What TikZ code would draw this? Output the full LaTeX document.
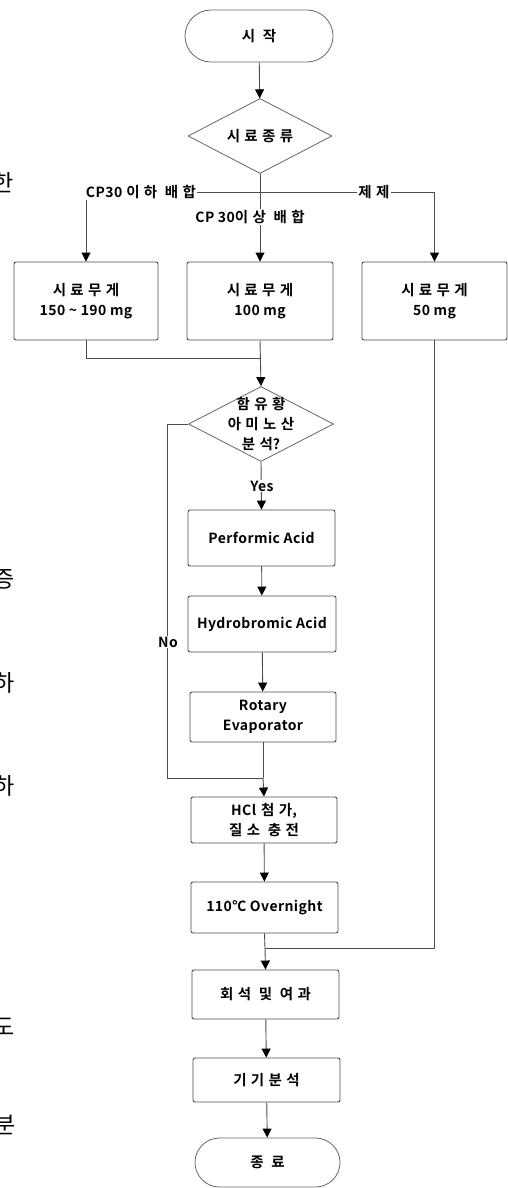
\documentclass[tikz,border=0pt]{standalone}
\usepackage{fontspec}
\setmainfont{Noto Sans CJK KR}[BoldFont={Noto Sans CJK KR Bold}]
\newfontfamily\krb{Noto Sans CJK KR Bold}[LetterSpace=3]
\newfontfamily\krr{Noto Sans CJK KR}
\newcommand{\ko}[1]{{\fontsize{14.5}{20}\selectfont\addfontfeature{LetterSpace=30}#1}}
\usetikzlibrary{shapes.geometric,shapes.misc,arrows.meta}
\tikzset{
  flow/.style={draw=black!70, line width=0.9pt},
  arr/.style={flow, -{Triangle[length=9pt,width=9pt,fill=black,color=black]}},
  txt/.style={font=\krb\fontsize{14}{20}\selectfont, align=center},
  box/.style={draw=black!70, line width=0.9pt, rounded corners=2pt, inner sep=0pt, txt},
  term/.style={draw=black!60, line width=0.8pt, rounded rectangle, inner sep=0pt, txt},
  dec/.style={draw=black!60, line width=0.8pt, diamond, inner sep=0pt},
  lbl/.style={fill=white, inner sep=1pt, txt},
  cutglyph/.style={font=\krr\fontsize{23}{23}\selectfont, anchor=east, inner sep=0pt}
}
\begin{document}
\begin{tikzpicture}[x=1pt,y=-1pt]
\useasboundingbox (0,0) rectangle (508,1188);
% cut-off body text at the left edge
\node[cutglyph] (e1) at (14,183) {한};
\node[cutglyph] (e2) at (15,579) {증};
\node[cutglyph] (e3) at (15,683) {하};
\node[cutglyph] (e4) at (15,786) {하};
\node[cutglyph] (e5) at (15,1027) {도};
\node[cutglyph] (e6) at (16,1125) {분};
% nodes
\node[term, minimum width=148pt, minimum height=52pt] (start) at (259,36) {\ko{시\ 작}};
\node[dec, minimum width=144pt, minimum height=75pt, label={[txt]center:\ko{시료종류}}] (d1) at (260,136) {};
\node[box, minimum width=144pt, minimum height=78pt] (bl) at (86,301) {\ko{시료무게}\\150 \textasciitilde{} 190 mg};
\node[box, minimum width=146pt, minimum height=78pt] (bm) at (260,301) {\ko{시료무게}\\100 mg};
\node[box, minimum width=145pt, minimum height=78pt] (br) at (434.5,301) {\ko{시료무게}\\50 mg};
\node[dec, minimum width=145pt, minimum height=75pt, label={[txt]center:\ko{함유황}\\\ko{아미노산}\\\ko{분석}?}] (d2) at (261,424) {};
\node[box, minimum width=147pt, minimum height=56pt] (perf) at (261.5,538) {Performic Acid};
\node[box, minimum width=148pt, minimum height=56pt] (hydro) at (262,624) {Hydrobromic Acid};
\node[box, minimum width=146pt, minimum height=50pt] (rot) at (263,717) {Rotary\\Evaporator};
\node[box, minimum width=146pt, minimum height=46pt] (hcl) at (264,820) {HCl\hspace{5pt}\ko{첨가},\\\ko{질소 충전}};
\node[box, minimum width=147pt, minimum height=51pt] (oven) at (264.5,907.5) {110℃ Overnight};
\node[box, minimum width=147pt, minimum height=49pt] (dil) at (265.5,994.5) {\ko{회석 및 여과}};
\node[box, minimum width=147pt, minimum height=44pt] (ins) at (266.5,1080) {\ko{기기분석}};
\node[term, minimum width=145pt, minimum height=49pt] (end) at (267.5,1162.5) {\ko{종\ 료}};
% junctions
\coordinate (j1) at (260,192);
\coordinate (j2) at (260,358);
\coordinate (j3) at (263,778);
\coordinate (j4) at (265,948);
\coordinate (nw) at (167,424);
% connectors
\draw[arr] (start) -- (d1);
\draw[flow] (d1.south) -- (j1);
\draw[arr] (j1) -| (bl.north);
\draw[arr] (j1) -- (bm.north);
\draw[arr] (j1) -| (br.north);
\node[lbl] (l1) at (141,192) {CP30\hspace{4pt}\ko{이하 배합}};
\node[lbl] (l2) at (250,217) {CP 30\ko{이상 배합}};
\node[lbl] (l3) at (374,192) {\ko{제제}};
\draw[flow] (bl.south) |- (j2);
\draw[arr] (bm.south) -- (d2.north);
\draw[arr] (d2.south) -- (perf.north);
\node[lbl] (yes) at (262,486) {Yes};
\draw[arr] (perf) -- (hydro);
\draw[arr] (hydro) -- (rot);
\draw[flow] (d2.west) -- (nw) |- (j3);
\node[lbl] (no) at (168,642) {No};
\draw[flow] (rot.south) -- (j3);
\draw[arr] (j3) -- (hcl.north);
\draw[arr] (hcl) -- (oven);
\draw[flow] (br.south) |- (j4);
\draw[flow] (oven.south) -- (j4);
\draw[arr] (j4) -- (dil.north);
\draw[arr] (dil) -- (ins);
\draw[arr] (ins) -- (end);
\end{tikzpicture}
\end{document}
